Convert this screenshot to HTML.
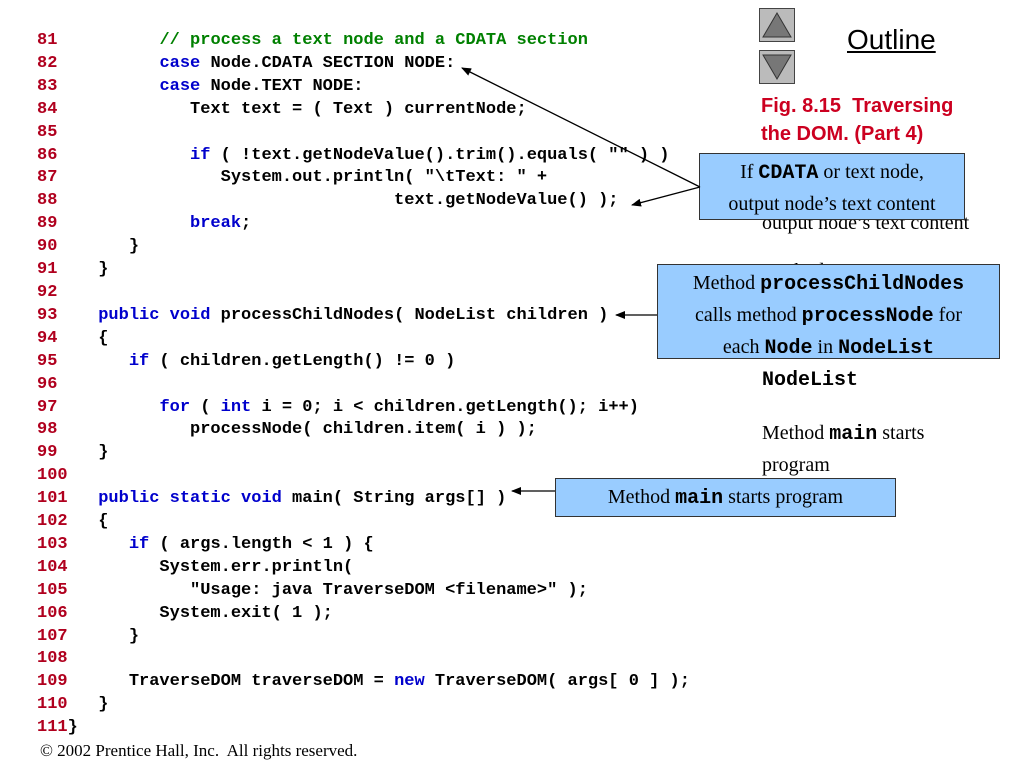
<!DOCTYPE html>
<html><head><meta charset="utf-8"><style>
body{margin:0;width:1024px;height:768px;background:#fff;position:relative;overflow:hidden;font-family:"Liberation Serif",serif}
pre{position:absolute;left:37px;top:30px;margin:0;font:bold 17px/22.9px "Liberation Mono",monospace;color:#000}
.n{color:#b0001e}.k{color:#0000cc}.c{color:#008000}
.box{position:absolute;background:#99ccff;border:1.5px solid #333;text-align:center;font-size:20px;line-height:30px;color:#000;box-sizing:border-box}
.box b,.bt b{font-family:"Liberation Mono",monospace;font-size:20px}
.bt{position:absolute;font-size:20px;line-height:30px}
.btn{position:absolute;left:759px;width:36px;height:34px;background:#bbb;border:1px solid #444;box-sizing:border-box}
</style></head><body>
<pre><span class="n">81</span>          <span class="c">// process a text node and a CDATA section</span>
<span class="n">82</span>          <span class="k">case</span> Node.CDATA SECTION NODE:
<span class="n">83</span>          <span class="k">case</span> Node.TEXT NODE:
<span class="n">84</span>             Text text = ( Text ) currentNode;
<span class="n">85</span>
<span class="n">86</span>             <span class="k">if</span> ( !text.getNodeValue().trim().equals( "" ) )
<span class="n">87</span>                System.out.println( "\tText: " +
<span class="n">88</span>                                 text.getNodeValue() );
<span class="n">89</span>             <span class="k">break</span>;
<span class="n">90</span>       }
<span class="n">91</span>    }
<span class="n">92</span>
<span class="n">93</span>    <span class="k">public void</span> processChildNodes( NodeList children )
<span class="n">94</span>    {
<span class="n">95</span>       <span class="k">if</span> ( children.getLength() != 0 )
<span class="n">96</span>
<span class="n">97</span>          <span class="k">for</span> ( <span class="k">int</span> i = 0; i &lt; children.getLength(); i++)
<span class="n">98</span>             processNode( children.item( i ) );
<span class="n">99</span>    }
<span class="n">100</span>
<span class="n">101</span>   <span class="k">public static void</span> main( String args[] )
<span class="n">102</span>   {
<span class="n">103</span>      <span class="k">if</span> ( args.length &lt; 1 ) {
<span class="n">104</span>         System.err.println(
<span class="n">105</span>            "Usage: java TraverseDOM &lt;filename&gt;" );
<span class="n">106</span>         System.exit( 1 );
<span class="n">107</span>      }
<span class="n">108</span>
<span class="n">109</span>      TraverseDOM traverseDOM = <span class="k">new</span> TraverseDOM( args[ 0 ] );
<span class="n">110</span>   }
<span class="n">111</span>}</pre>

<div class="btn" style="top:8px"><svg width="34" height="32" style="position:absolute;left:0;top:0"><polygon points="17,4 31,28 3,28" fill="#777" stroke="#333"/></svg></div>
<div class="btn" style="top:50px"><svg width="34" height="32" style="position:absolute;left:0;top:0"><polygon points="3,4 31,4 17,28" fill="#777" stroke="#333"/></svg></div>
<div style="position:absolute;left:847px;top:24px;font:28px 'Liberation Sans',sans-serif;text-decoration:underline">Outline</div>
<div style="position:absolute;left:761px;top:92px;font:bold 20px/28px 'Liberation Sans',sans-serif;color:#cc0020">Fig. 8.15&nbsp; Traversing<br>the DOM. (Part 4)</div>

<div class="bt" style="left:762px;top:176px;white-space:nowrap">If <b>CDATA</b> or text node,<br>output node’s text content</div>
<div class="bt" style="left:762px;top:256px">Method</div>
<div class="bt" style="left:762px;top:364px"><b>NodeList</b></div>
<div class="bt" style="left:762px;top:418px">Method <b>main</b> starts<br>program</div>

<div class="box" style="left:699px;top:153px;width:266px;height:67px;padding-top:3px">If <b>CDATA</b> or text node,<br>output node’s text content</div>
<div class="box" style="left:657px;top:264px;width:343px;height:95px;padding-top:3px;white-space:nowrap">Method <b>processChildNodes</b><br>calls method <b>processNode</b> for<br>each <b>Node</b> in <b>NodeList</b></div>
<div class="box" style="left:555px;top:478px;width:341px;height:39px;padding-top:3px">Method <b>main</b> starts program</div>

<svg width="1024" height="768" style="position:absolute;left:0;top:0">
<defs><marker id="a" markerWidth="10" markerHeight="8" refX="9" refY="4" orient="auto" markerUnits="userSpaceOnUse"><polygon points="0,0 10,4 0,8" fill="#000"/></marker></defs>
<g stroke="#000" stroke-width="1.3" marker-end="url(#a)">
<line x1="700" y1="187" x2="462" y2="68"/>
<line x1="700" y1="187" x2="632" y2="205"/>
<line x1="657" y1="315" x2="616" y2="315"/>
<line x1="555" y1="491" x2="512" y2="491"/>
</g></svg>

<div style="position:absolute;left:40px;top:741px;font-size:17px">© 2002 Prentice Hall, Inc.&nbsp; All rights reserved.</div>
</body></html>
